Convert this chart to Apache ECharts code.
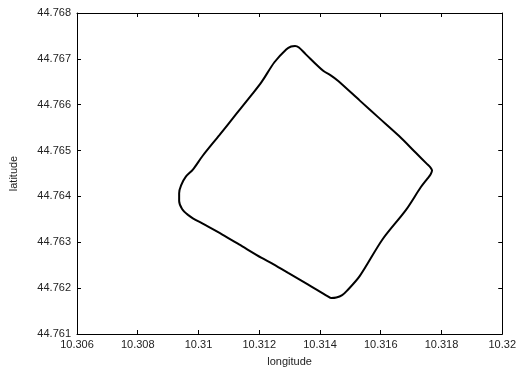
<!DOCTYPE html>
<html>
<head>
<meta charset="utf-8">
<script src="https://cdn.jsdelivr.net/npm/echarts@6/dist/echarts.min.js"></script>
<style>html,body{margin:0;padding:0;background:#fff}#c{width:519px;height:372px}</style>
</head>
<body>
<div id="c"></div>
<script>
var longitude = [10.309654,10.309460,10.309363,10.309363,10.309427,10.309589,10.309815,10.310139,10.310688,10.311206,10.311755,10.312079,10.312499,10.312887,10.313049,10.313178,10.313307,10.313534,10.314116,10.314342,10.314601,10.315312,10.315959,10.316605,10.317155,10.317511,10.317640,10.317689,10.317640,10.317543,10.317317,10.316832,10.316056,10.315312,10.314892,10.314730,10.314536,10.314374,10.314245,10.313598,10.312952,10.312402,10.312079,10.311335,10.310785,10.310139,10.309815,10.309654];
var latitude = [44.763598,44.763727,44.763899,44.764071,44.764242,44.764436,44.764586,44.764887,44.765337,44.765767,44.766218,44.766497,44.766926,44.767206,44.767270,44.767281,44.767248,44.767098,44.766733,44.766647,44.766518,44.766089,44.765702,44.765316,44.764951,44.764715,44.764629,44.764564,44.764479,44.764393,44.764199,44.763706,44.763061,44.762267,44.761945,44.761848,44.761795,44.761784,44.761827,44.762084,44.762331,44.762546,44.762660,44.762954,44.763169,44.763405,44.763523,44.763598];
var xTicks = ['10.306','10.308','10.31','10.312','10.314','10.316','10.318','10.32'];
var yTicks = ['44.761','44.762','44.763','44.764','44.765','44.766','44.767','44.768'];

var pts = longitude.map(function(v,i){return [v, latitude[i]];});
var font = 'Liberation Sans, Arial, Helvetica, sans-serif';
var axisCommon = {
  type: 'value',
  axisLine: {show: true, lineStyle: {color: '#000', width: 1}},
  axisTick: {show: true, inside: true, length: 4, lineStyle: {color: '#000'}},
  splitLine: {show: false}
};
var chart = echarts.init(document.getElementById('c'));
chart.setOption({
  animation: false,
  backgroundColor: '#fff',
  grid: {left: 72, right: 14, top: 13, bottom: 33},
  xAxis: [
    Object.assign({}, axisCommon, {
      min: 10.306, max: 10.32, interval: 0.002, position: 'bottom',
      name: 'longitude', nameLocation: 'middle', nameGap: 22,
      nameTextStyle: {fontFamily: font, fontSize: 11, color: '#222'},
      axisLabel: {fontFamily: font, fontSize: 11, color: '#222', margin: 5,
        formatter: function(v){ return String(parseFloat(v.toFixed(3))); }}
    }),
    Object.assign({}, axisCommon, {
      min: 10.306, max: 10.32, interval: 0.002, position: 'top',
      axisLabel: {show: false}
    })
  ],
  yAxis: [
    Object.assign({}, axisCommon, {
      min: 44.761, max: 44.768, interval: 0.001, position: 'left',
      name: 'latitude', nameLocation: 'middle', nameGap: 58, nameRotate: 90,
      nameTextStyle: {fontFamily: font, fontSize: 11, color: '#222'},
      axisLabel: {fontFamily: font, fontSize: 11, color: '#222', margin: 6,
        formatter: function(v){ return v.toFixed(3); }}
    }),
    Object.assign({}, axisCommon, {
      min: 44.761, max: 44.768, interval: 0.001, position: 'right',
      axisLabel: {show: false}
    })
  ],
  series: [{
    type: 'line',
    data: pts,
    showSymbol: false,
    smooth: 0.3,
    lineStyle: {color: '#000', width: 2},
    xAxisIndex: 0, yAxisIndex: 0
  }]
});
</script>
</body>
</html>
